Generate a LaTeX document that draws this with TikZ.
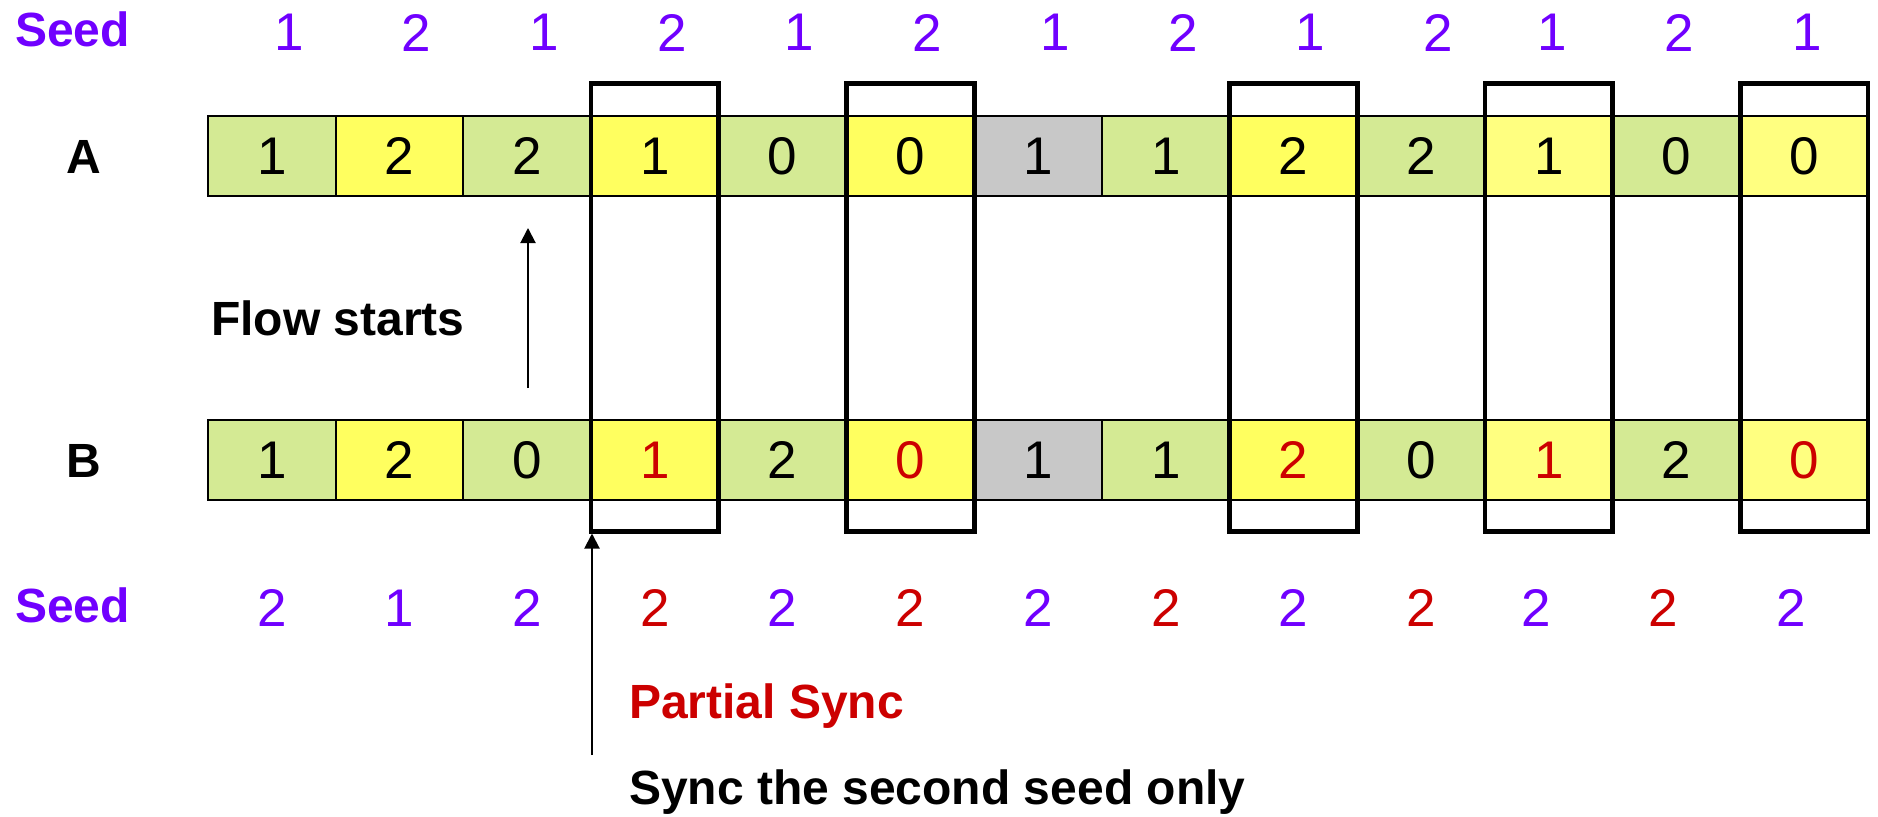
\documentclass[tikz,border=0pt]{standalone}
\usepackage{fontspec}
\setmainfont{Liberation Sans}
\usetikzlibrary{arrows.meta}
\definecolor{cgreen}{HTML}{D4EA94}
\definecolor{cyellow}{HTML}{FFFF5F}
\definecolor{cpale}{HTML}{FFFF80}
\definecolor{cgray}{HTML}{C8C8C8}
\definecolor{cpurple}{HTML}{7000FF}
\definecolor{cred}{HTML}{CC0000}
\newcommand\digitfont{\fontsize{53}{60}\selectfont}
\newcommand\labfont{\fontsize{48}{56}\selectfont\bfseries}
\begin{document}
\begin{tikzpicture}[x=1pt,y=-1pt,
  cell/.style={draw=black, line width=2pt, minimum width=127.7pt, minimum height=80pt, inner sep=0pt, font=\digitfont},
  seednum/.style={inner sep=0pt, font=\digitfont},
  framebox/.style={draw=black, line width=4.7pt, minimum width=127.7pt, minimum height=447.5pt, inner sep=0pt},
  lab/.style={inner sep=0pt, font=\labfont},
  arr/.style={-{Triangle[length=15pt,width=15pt]}, line width=2pt}
]
\useasboundingbox (0,0) rectangle (1878,816);

% row A
\foreach \i/\d/\f/\t in {1/1/cgreen/black,2/2/cyellow/black,3/2/cgreen/black,4/1/cyellow/black,5/0/cgreen/black,6/0/cyellow/black,7/1/cgray/black,8/1/cgreen/black,9/2/cyellow/black,10/2/cgreen/black,11/1/cpale/black,12/0/cgreen/black,13/0/cpale/black}{
  \pgfmathsetmacro\cx{208+(\i-0.5)*127.7}
  \node[cell, fill=\f, text=\t] (a\i) at (\cx,156) {\d};
}
% row B
\foreach \i/\d/\f/\t in {1/1/cgreen/black,2/2/cyellow/black,3/0/cgreen/black,4/1/cyellow/cred,5/2/cgreen/black,6/0/cyellow/cred,7/1/cgray/black,8/1/cgreen/black,9/2/cyellow/cred,10/0/cgreen/black,11/1/cpale/cred,12/2/cgreen/black,13/0/cpale/cred}{
  \pgfmathsetmacro\cx{208+(\i-0.5)*127.7}
  \node[cell, fill=\f, text=\t] (b\i) at (\cx,460) {\d};
}
% frames
\foreach \i in {4,6,9,11,13}{
  \pgfmathsetmacro\cx{208+(\i-0.5)*127.7}
  \node[framebox] (f\i) at (\cx,307.4) {};
}
% top seeds
\foreach \i/\d/\dx in {1/1/17,2/2/17,3/1/17,4/2/17,5/1/17,6/2/17,7/1/17,8/2/17,9/1/17,10/2/17,11/1/3,12/2/3,13/1/3}{
  \pgfmathsetmacro\cx{208+(\i-0.5)*127.7+\dx}
  \node[seednum, text=cpurple] (ts\i) at (\cx,32.5) {\d};
}
% bottom seeds
\foreach \i/\d/\c/\dx in {1/2/cpurple/0,2/1/cpurple/0,3/2/cpurple/0,4/2/cred/0,5/2/cpurple/0,6/2/cred/0,7/2/cpurple/0,8/2/cred/0,9/2/cpurple/0,10/2/cred/0,11/2/cpurple/-13,12/2/cred/-13,13/2/cpurple/-13}{
  \pgfmathsetmacro\cx{208+(\i-0.5)*127.7+\dx}
  \node[seednum, text=\c] (bs\i) at (\cx,608) {\d};
}
% labels
\node[lab, text=cpurple, anchor=base west] (seedtop) at (15,47) {Seed};
\node[lab, text=cpurple, anchor=base west] (seedbot) at (15,622) {Seed};
\node[lab, anchor=base] (labA) at (84,173) {A};
\node[lab, anchor=base] (labB) at (84,477) {B};
\node[lab, anchor=base west] (flow) at (211,335) {Flow starts};
\node[lab, text=cred, anchor=base west] (partial) at (629,718) {Partial Sync};
\node[lab, anchor=base west] (syncsec) at (629,804) {Sync the second seed only};
% arrows
\coordinate (fsS) at (528,388);
\coordinate (fsE) at (528,228);
\draw[arr] (fsS) -- (fsE);
\coordinate (psS) at (592,755);
\draw[arr] (psS) -- (psS |- f4.south);
\end{tikzpicture}
\end{document}
